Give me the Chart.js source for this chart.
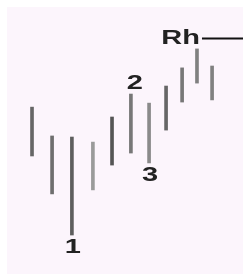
<!DOCTYPE html>
<html><head><meta charset="utf-8">
<script src="https://cdn.jsdelivr.net/npm/chart.js@4/dist/chart.umd.min.js"></script>
<style>
html,body{margin:0;padding:0;background:#ffffff;width:243px;height:275px;overflow:hidden}
#wrap{position:absolute;left:7px;top:7px;width:236px;height:267px;background:#fcf5fc}
</style></head><body>
<div id="wrap"><canvas id="c" width="236" height="267"></canvas></div>
<script>
// bar positions (time axis, arbitrary units 0-100)
const positions = [10.6, 19.1, 27.5, 36.4, 44.5, 52.5, 60.2, 67.4, 74.2, 80.5, 86.9];
// highs and lows (price, arbitrary units 0-100)
const highs = [62.5, 51.7, 51.3, 49.4, 58.8, 67.4, 64.0, 70.4, 77.2, 84.3, 77.9];
const lows  = [44.2, 30.0, 14.6, 31.5, 40.8, 45.3, 41.6, 53.9, 64.4, 71.5, 65.2];
const barColors = ['#666666','#6e6e6e','#5e5e5e','#9a9a9a','#555555','#777777','#8a8a8a','#666666','#777777','#808080','#808080'];
// point labels: text, bar index, placement
const labelTexts = ['1', '2', '3'];
const labelBars = [2, 5, 6];
const labelPlace = ['below', 'above', 'below'];
// resistance level
const rhText = 'Rh';
const rhLevel = 88.2;
const rhStart = 80.5;

const data = positions.map((x, i) => ({x: x, y: [lows[i], highs[i]]}));

const annot = {
  id: 'annot',
  afterDatasetsDraw(chart) {
    const ctx = chart.ctx, xs = chart.scales.x, ys = chart.scales.y;
    ctx.save();
    ctx.fillStyle = '#222222';
    ctx.font = 'bold 20px "Liberation Sans", Arial, sans-serif';
    ctx.textBaseline = 'alphabetic';
    const drawStretched = (t, cx, baseY, align) => {
      ctx.save();
      ctx.translate(cx, baseY);
      ctx.scale(1.45, 1);
      ctx.textAlign = align;
      ctx.fillText(t, 0, 0);
      ctx.restore();
    };
    labelTexts.forEach((t, k) => {
      const i = labelBars[k];
      const px = xs.getPixelForValue(positions[i]);
      if (labelPlace[k] === 'below') {
        const py = ys.getPixelForValue(lows[i]);
        drawStretched(t, px + 1, py + 18, 'center');
      } else {
        const py = ys.getPixelForValue(highs[i]);
        drawStretched(t, px + 4, py - 5, 'center');
      }
    });
    // Rh level
    const ly = ys.getPixelForValue(rhLevel);
    const lx = xs.getPixelForValue(rhStart);
    drawStretched(rhText, lx + 3, ly + 5, 'right');
    ctx.strokeStyle = '#111111';
    ctx.lineWidth = 2;
    ctx.beginPath();
    ctx.moveTo(lx + 5, ly);
    ctx.lineTo(chart.width, ly);
    ctx.stroke();
    ctx.restore();
  }
};

new Chart(document.getElementById('c'), {
  type: 'bar',
  data: {
    datasets: [{
      data: data,
      backgroundColor: barColors,
      borderWidth: 0,
      barThickness: 3,
      borderSkipped: false
    }]
  },
  options: {
    responsive: false,
    animation: false,
    devicePixelRatio: 1,
    layout: {padding: 0},
    plugins: {legend: {display: false}, tooltip: {enabled: false}},
    scales: {
      x: {type: 'linear', min: 0, max: 100, offset: false, display: false},
      y: {type: 'linear', min: 0, max: 100, display: false, beginAtZero: false}
    }
  },
  plugins: [annot]
});
</script>
</body></html>
